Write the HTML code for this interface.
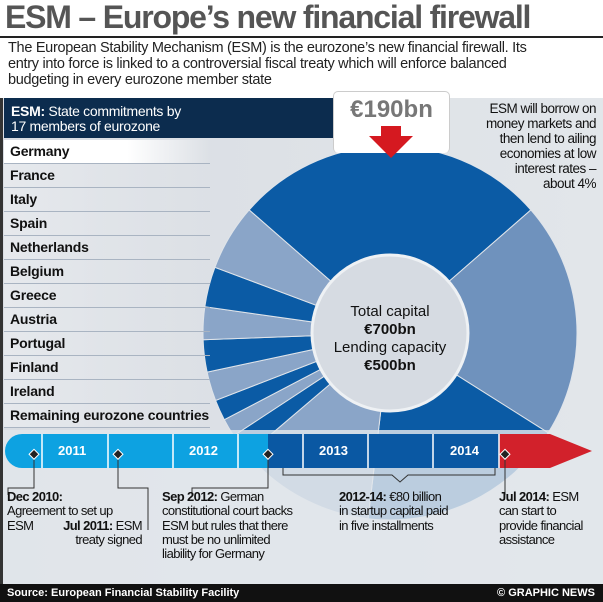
<!DOCTYPE html>
<html><head><meta charset="utf-8"><style>
body{margin:0;width:603px;height:602px;overflow:hidden;background:#fff;font-family:"Liberation Sans",sans-serif;position:relative}
.a{position:absolute}
.row{position:absolute;left:4px;width:200px;height:23px;border-bottom:1px solid #a9b4c2;font-weight:bold;font-size:14px;line-height:23px;padding-left:6px;color:#111;white-space:nowrap;letter-spacing:-0.2px}
.tl{position:absolute;font-size:13px;line-height:14.3px;color:#111;letter-spacing:-0.6px}
.yr{position:absolute;top:443px;color:#fff;font-weight:bold;font-size:13px}
</style></head><body>
<div class="a" style="left:5px;top:-1px;font-size:32px;font-weight:bold;color:#555;letter-spacing:-1.2px;white-space:nowrap">ESM – Europe’s new financial firewall</div>
<div class="a" style="left:0;top:36px;width:603px;height:2px;background:#222"></div>
<div class="a" style="left:8px;top:40px;width:592px;font-size:14.5px;line-height:16px;color:#222;letter-spacing:-0.3px">The European Stability Mechanism (ESM) is the eurozone’s new financial firewall. Its<br>entry into force is linked to a controversial fiscal treaty which will enforce balanced<br>budgeting in every eurozone member state</div>
<div class="a" style="left:0;top:98px;width:603px;height:486px;background:linear-gradient(90deg,#d9dde3,#e2e6ea)"></div>
<div class="a" style="left:0;top:98px;width:3px;height:486px;background:#333"></div>
<svg class="a" style="left:0;top:0" width="603" height="602" id="donut"></svg>
<div class="a" style="left:3px;top:430px;width:600px;height:154px;background:rgba(226,230,235,0.82)"></div>
<div class="a" style="left:4px;top:98px;width:329px;height:40px;background:#0c2c4e;color:#fff;font-size:14px;line-height:15px;padding:6px 0 0 7px;box-sizing:border-box;letter-spacing:-0.3px"><b>ESM:</b> State commitments by<br>17 members of eurozone</div>
<div id="list"></div>
<div class="a" style="left:333px;top:91px;width:117px;height:62px;background:#fff;border:1px solid #ccc;border-radius:5px;border-bottom:none;text-align:center;font-weight:bold;font-size:24px;color:#777;padding-top:4px;box-sizing:border-box">€190bn</div>
<svg class="a" style="left:361px;top:126px" width="60" height="36"><polygon points="20,0 40,0 40,10 52,10 30,32 8,10 20,10" fill="#d51920"/></svg>
<div class="a" style="left:445px;top:101px;width:151px;text-align:right;font-size:13.5px;line-height:15px;color:#111;letter-spacing:-0.5px">ESM will borrow on<br>money markets and<br>then lend to ailing<br>economies at low<br>interest rates –<br>about 4%</div>
<div class="a" style="left:312px;top:303px;width:156px;text-align:center;font-size:15px;line-height:18px;color:#111">Total capital<br><b>€700bn</b><br>Lending capacity<br><b>€500bn</b></div>
<svg class="a" style="left:0;top:430px" width="603" height="45">
<path d="M22,4 H268 V38 H22 A17,17 0 0 1 22,4Z" fill="#0da2e1"/>
<rect x="268" y="4" width="231" height="34" fill="#0a58a3"/>
<polygon points="499,4 550,4 592,21 550,38 499,38" fill="#d2212b"/>
<g stroke="#fff" stroke-width="1.5"><line x1="42" y1="4" x2="42" y2="38"/><line x1="108" y1="4" x2="108" y2="38"/><line x1="173" y1="4" x2="173" y2="38"/><line x1="238" y1="4" x2="238" y2="38"/><line x1="303" y1="4" x2="303" y2="38"/><line x1="368" y1="4" x2="368" y2="38"/><line x1="433" y1="4" x2="433" y2="38"/><line x1="499" y1="4" x2="499" y2="38"/></g>
</svg>
<div class="yr" style="left:58px">2011</div>
<div class="yr" style="left:189px">2012</div>
<div class="yr" style="left:319px">2013</div>
<div class="yr" style="left:450px">2014</div>
<svg class="a" style="left:0;top:440px" width="603" height="90" fill="none" stroke="#333" stroke-width="1">
<polyline points="34,15 34,48 8,48 8,55"/><polyline points="118,15 118,48 148,48 148,103"/><polyline points="268,15 268,48 192,48 192,55"/><polyline points="283,28 283,35 392,35 400,42 408,35 495,35 495,28"/><polyline points="505,15 505,55"/>
<g fill="#222" stroke="#fff"><rect x="30" y="11" width="7" height="7" transform="rotate(45 34 15)"/><rect x="114" y="11" width="7" height="7" transform="rotate(45 118 15)"/><rect x="264" y="11" width="7" height="7" transform="rotate(45 268 15)"/><rect x="501" y="11" width="7" height="7" transform="rotate(45 505 15)"/></g>
</svg>
<div class="tl" style="left:7px;top:490px"><b>Dec 2010:</b><br>Agreement to set up<br>ESM</div>
<div class="tl" style="left:40px;top:519px;text-align:right;width:102px"><b>Jul 2011:</b> ESM<br>treaty signed</div>
<div class="tl" style="left:162px;top:490px;width:170px"><b>Sep 2012:</b> German<br>constitutional court backs<br>ESM but rules that there<br>must be no unlimited<br>liability for Germany</div>
<div class="tl" style="left:339px;top:490px;width:150px"><b>2012-14:</b> €80 billion<br>in startup capital paid<br>in five installments</div>
<div class="tl" style="left:499px;top:490px;width:104px"><b>Jul 2014:</b> ESM<br>can start to<br>provide financial<br>assistance</div>
<div class="a" style="left:0;top:584px;width:603px;height:18px;background:#111;color:#fff;font-size:11px;font-weight:bold;line-height:18px"><span style="margin-left:7px">Source: European Financial Stability Facility</span><span style="position:absolute;right:8px">© GRAPHIC NEWS</span></div>
<script>
const countries=["Germany","France","Italy","Spain","Netherlands","Belgium","Greece","Austria","Portugal","Finland","Ireland","Remaining eurozone countries"];
const commitments=[190,142.7,125.4,83.3,40,24.3,19.7,19.5,17.6,12.6,11.1,13.8];
const sliceOrder=[0,1,2,3,11,10,9,8,7,6,5,4];
const list=document.getElementById('list');
countries.forEach((c,i)=>{const d=document.createElement('div');d.className='row';d.style.top=(140+i*24)+'px';d.style.background=i===0?'linear-gradient(90deg,#fff 60%,rgba(255,255,255,0))':'linear-gradient(90deg,#e6e9ed,rgba(220,224,230,0))';d.textContent=c;


list.appendChild(d);});
const svg=document.getElementById('donut'),NS='http://www.w3.org/2000/svg';
const cx=390,cy=333,R=187,r=78;
const total=commitments.reduce((a,b)=>a+b,0);
function pt(a,rad){return [cx+rad*Math.sin(a),cy-rad*Math.cos(a)];}
let ang=-commitments[0]/total*Math.PI;
sliceOrder.forEach((idx,k)=>{const sw=commitments[idx]/total*2*Math.PI;const a0=ang,a1=ang+sw;ang=a1;
const [x0,y0]=pt(a0,R),[x1,y1]=pt(a1,R),[x2,y2]=pt(a1,r),[x3,y3]=pt(a0,r);const lg=sw>Math.PI?1:0;
const p=document.createElementNS(NS,'path');
p.setAttribute('d',`M${x0},${y0}A${R},${R} 0 ${lg} 1 ${x1},${y1}L${x2},${y2}A${r},${r} 0 ${lg} 0 ${x3},${y3}Z`);
p.setAttribute('fill',k%2===0?'#0b5ba5':(idx===1?'#6f92bd':'#8aa5c8'));
p.setAttribute('stroke','#dfe4ea');p.setAttribute('stroke-width','1');


svg.appendChild(p);});
const c=document.createElementNS(NS,'circle');c.setAttribute('cx',cx);c.setAttribute('cy',cy);c.setAttribute('r',r);c.setAttribute('fill','#d6dbe2');c.setAttribute('stroke','#eef1f4');c.setAttribute('stroke-width','3');


svg.appendChild(c);
</script>
</body></html>
